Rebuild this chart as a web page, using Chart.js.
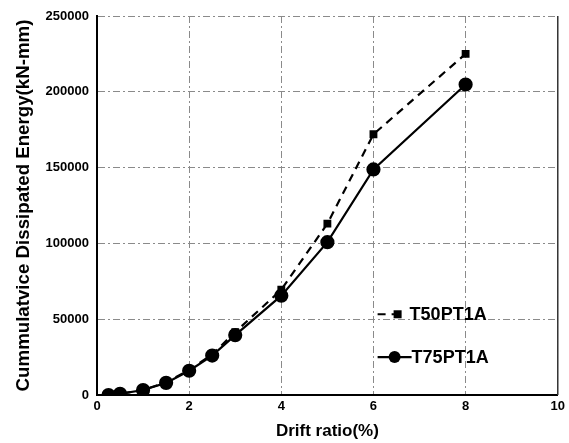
<!DOCTYPE html>
<html>
<head>
<meta charset="utf-8">
<script src="https://cdn.jsdelivr.net/npm/chart.js@4"></script>
<style>
  html, body { margin: 0; padding: 0; background: #fff; }
  #wrap { width: 569px; height: 443px; }
</style>
</head>
<body>
<div id="wrap"><canvas id="energyChart"></canvas></div>
<script>
// Drift ratio (%) at each cycle and cumulative dissipated energy (kN-mm)
const driftRatio = [0.25, 0.5, 1, 1.5, 2, 2.5, 3, 4, 5, 6, 8];
const t50pt1a = [0, 800, 3300, 8300, 16500, 26800, 41500, 69500, 113000, 172000, 225000];
const t75pt1a = [0, 800, 3300, 8000, 16000, 26000, 39500, 65500, 100800, 148800, 204800];

const xTicks = [0, 2, 4, 6, 8, 10];
const yTicks = [0, 50000, 100000, 150000, 200000, 250000];

const font = "'Liberation Sans', Arial, sans-serif";

function toXY(xs, ys) {
    return xs.map((x, i) => ({ x: x, y: ys[i] }));
}

// Solid frame on the right side of the plot
const frame = {
    id: 'frame',
    afterDatasetsDraw(chart) {
        const a = chart.chartArea;
        const ctx = chart.ctx;
        ctx.save();
        ctx.strokeStyle = '#333';
        ctx.lineWidth = 1.5;
        ctx.beginPath();
        ctx.moveTo(a.right, a.top);
        ctx.lineTo(a.right, a.bottom);
        ctx.stroke();
        ctx.restore();
    }
};

// Legend sits inside the plot, lower right
const insideLegend = {
    id: 'insideLegend',
    afterDraw(chart) {
        const a = chart.chartArea;
        const ctx = chart.ctx;
        const x0 = a.left + (a.right - a.left) * 0.609;
        const rows = [
            { ds: chart.data.datasets[0], y: a.top + (a.bottom - a.top) * 0.787, len: 26, mark: 20, text: 32 },
            { ds: chart.data.datasets[1], y: a.top + (a.bottom - a.top) * 0.9, len: 34, mark: 17, text: 34 }
        ];
        ctx.save();
        rows.forEach(r => {
            ctx.strokeStyle = '#000';
            ctx.lineWidth = 2.2;
            ctx.setLineDash(r.ds.borderDash || []);
            ctx.beginPath();
            ctx.moveTo(x0, r.y);
            ctx.lineTo(x0 + r.len, r.y);
            ctx.stroke();
            ctx.setLineDash([]);
            ctx.fillStyle = '#000';
            if (r.ds.pointStyle === 'rect') {
                ctx.fillRect(x0 + r.mark - 4, r.y - 4, 8, 8);
            } else {
                ctx.beginPath();
                ctx.arc(x0 + r.mark, r.y, 6, 0, Math.PI * 2);
                ctx.fill();
            }
            ctx.font = 'bold 18px ' + font;
            ctx.textBaseline = 'middle';
            ctx.fillText(r.ds.label, x0 + r.text, r.y + 1);
        });
        ctx.restore();
    }
};

const ctx = document.getElementById('energyChart').getContext('2d');
const energyChart = new Chart(ctx, {
    type: 'line',
    data: {
        datasets: [
        {
            label: 'T50PT1A',
            data: toXY(driftRatio, t50pt1a),
            borderColor: '#000',
            backgroundColor: '#000',
            borderWidth: 2.2,
            borderDash: [8, 6],
            pointStyle: 'rect',
            pointRadius: 4,
            order: 1
        },
        {
            label: 'T75PT1A',
            data: toXY(driftRatio, t75pt1a),
            borderColor: '#000',
            backgroundColor: '#000',
            borderWidth: 2.2,
            pointStyle: 'circle',
            pointRadius: 6,
            order: 0
        }
    ]
    },
    options: {
        responsive: true,
        maintainAspectRatio: false,
        animation: false,
        layout: { padding: { top: 16, right: 10, left: 0, bottom: 0 } },
        plugins: {
            legend: { display: false },
            tooltip: { enabled: false }
        },
        scales: {
            x: {
                type: 'linear',
                min: 0,
                max: 10,
                afterBuildTicks: s => { s.ticks = xTicks.map(v => ({ value: v })); },
                afterFit: s => { s.height = 48; },
                ticks: {
                    color: '#000',
                    padding: 4,
                    font: { family: font, size: 13, weight: 'bold' }
                },
                grid: { color: '#8a8a8a', lineWidth: 1, drawTicks: false },
                border: { display: true, color: '#000', width: 2, dash: [7, 3, 2, 3] },
                title: {
                    display: true,
                    text: 'Drift ratio(%)',
                    color: '#000',
                    padding: { top: 0, bottom: 1 },
                    font: { family: font, size: 17, weight: 'bold' }
                }
            },
            y: {
                type: 'linear',
                min: 0,
                max: 250000,
                afterBuildTicks: s => { s.ticks = yTicks.map(v => ({ value: v })); },
                afterFit: s => { s.width = 97; },
                ticks: {
                    color: '#000',
                    padding: 8,
                    font: { family: font, size: 13, weight: 'bold' },
                    callback: v => String(v)
                },
                grid: { color: '#8a8a8a', lineWidth: 1, drawTicks: false },
                border: { display: true, color: '#000', width: 2, dash: [7, 3, 2, 3] },
                title: {
                    display: true,
                    text: 'Cummulatvice Dissipated Energy(kN-mm)',
                    color: '#000',
                    padding: { top: 13, bottom: 0 },
                    font: { family: font, size: 18.7, weight: 'bold' }
                }
            }
        }
    },
    plugins: [frame, insideLegend]
});
</script>
</body>
</html>
